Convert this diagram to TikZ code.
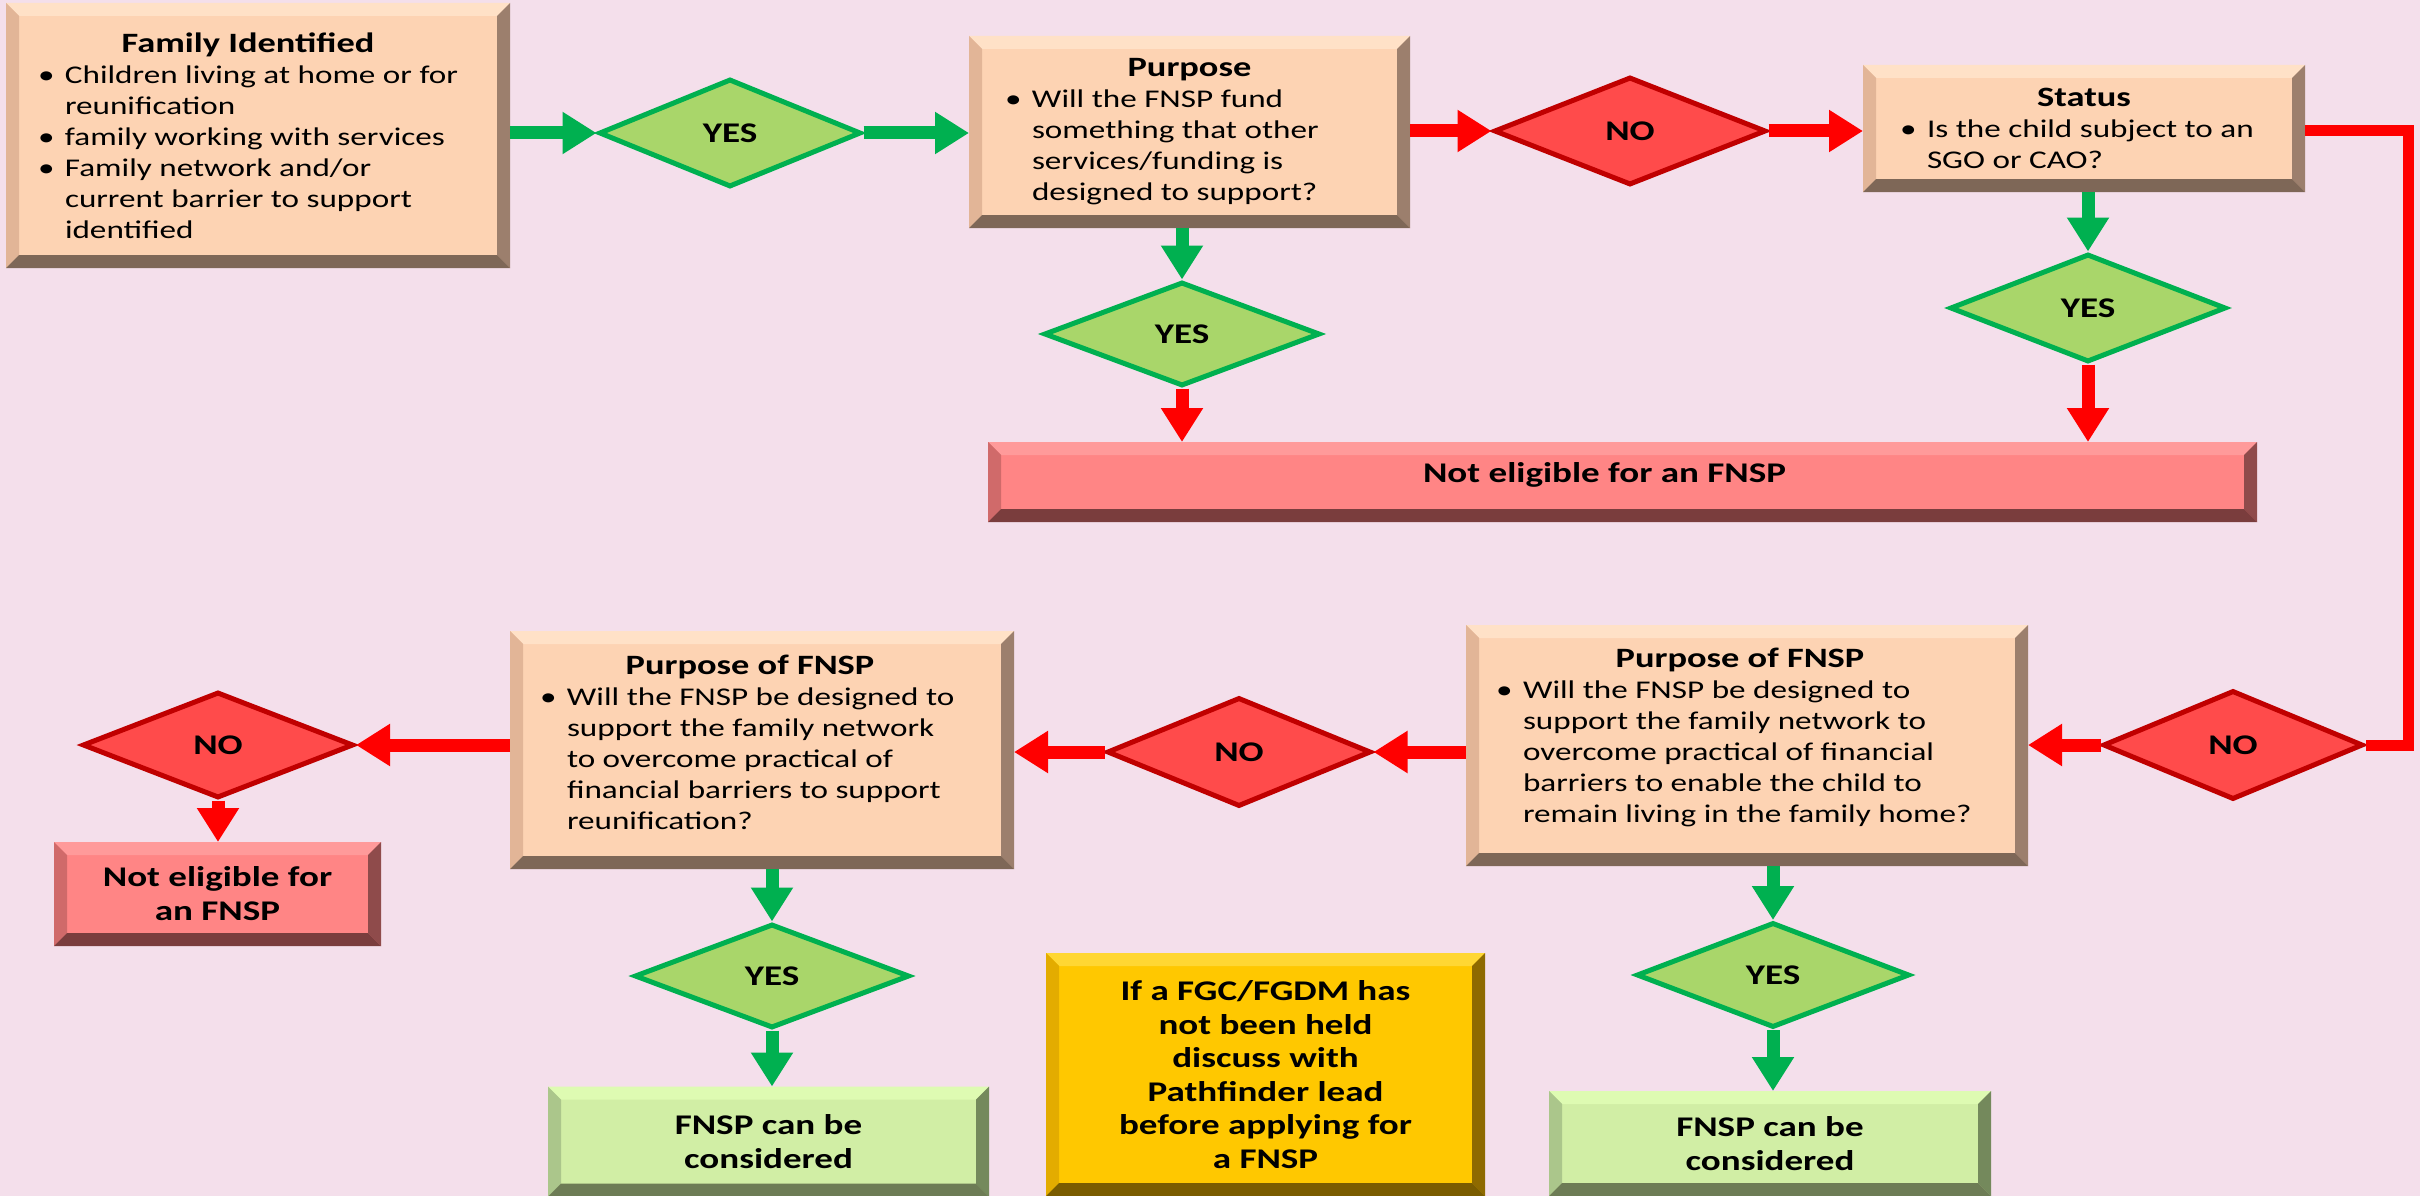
\documentclass[tikz,border=0pt]{standalone}
\usepackage{fontspec}
\setmainfont{Carlito}[FakeStretch=1.3]
\usetikzlibrary{shapes.geometric,arrows.meta}
\definecolor{bgpink}{HTML}{F4DFEB}
\definecolor{peach}{HTML}{FDD3B3}
\definecolor{peachT}{HTML}{FFE1C7}
\definecolor{peachL}{HTML}{E2B597}
\definecolor{peachR}{HTML}{9C7F6D}
\definecolor{peachB}{HTML}{7E6757}
\definecolor{pinkred}{HTML}{FF8585}
\definecolor{pinkredT}{HTML}{FF9A9A}
\definecolor{pinkredL}{HTML}{D06A6A}
\definecolor{pinkredR}{HTML}{8F4B4B}
\definecolor{pinkredB}{HTML}{7A3D3D}
\definecolor{lgbox}{HTML}{D1EEA5}
\definecolor{lgboxT}{HTML}{DEFBB2}
\definecolor{lgboxL}{HTML}{ABC68B}
\definecolor{lgboxR}{HTML}{74895C}
\definecolor{lgboxB}{HTML}{6D7C55}
\definecolor{ybox}{HTML}{FFC800}
\definecolor{yboxT}{HTML}{FFD733}
\definecolor{yboxL}{HTML}{E3AC00}
\definecolor{yboxR}{HTML}{8E6A00}
\definecolor{yboxB}{HTML}{7A5C00}
\definecolor{dgreen}{HTML}{00B050}
\definecolor{yesfill}{HTML}{A9D66A}
\definecolor{nofill}{HTML}{FF4B4B}
\definecolor{noline}{HTML}{C00000}
\definecolor{arred}{HTML}{FF0000}
\newcommand\bevsz{13pt}
\newcommand\bevel[5]{%
  \fill[#2] (#1.north west) -- (#1.north east) -- ([xshift=-\bevsz,yshift=-\bevsz]#1.north east) -- ([xshift=\bevsz,yshift=-\bevsz]#1.north west) -- cycle;
  \fill[#3] (#1.north west) -- ([xshift=\bevsz,yshift=-\bevsz]#1.north west) -- ([xshift=\bevsz,yshift=\bevsz]#1.south west) -- (#1.south west) -- cycle;
  \fill[#4] (#1.north east) -- ([xshift=-\bevsz,yshift=-\bevsz]#1.north east) -- ([xshift=-\bevsz,yshift=\bevsz]#1.south east) -- (#1.south east) -- cycle;
  \fill[#5] (#1.south west) -- (#1.south east) -- ([xshift=-\bevsz,yshift=\bevsz]#1.south east) -- ([xshift=\bevsz,yshift=\bevsz]#1.south west) -- cycle;}
\newcommand\bl{\makebox[27pt][l]{\textbullet}}
\newcommand\ct{\hspace*{27pt}}
\newcommand\ttl[2][0pt]{{\centering\fontsize{28}{31}\selectfont\bfseries\hspace*{#1}#2\par}}
\newcommand\bodyfont{\fontsize{25.5}{31}\selectfont}
\newcommand\lblfont{\fontsize{28.5}{34}\selectfont\bfseries}
\begin{document}
\begin{tikzpicture}[x=1pt,y=-1pt,
  abox/.style={inner sep=0pt,outer sep=0pt,align=center},
  pbox/.style={abox,fill=peach},
  rbox/.style={abox,fill=pinkred,font=\lblfont},
  gbox/.style={abox,fill=lgbox,font=\lblfont},
  ybx/.style={abox,fill=ybox,font=\fontsize{28.5}{33.5}\selectfont\bfseries},
  yesd/.style={diamond,draw=dgreen,fill=yesfill,line width=5pt,inner sep=0pt,font=\lblfont},
  nod/.style={diamond,draw=noline,fill=nofill,line width=5pt,inner sep=0pt,font=\lblfont},
  garr/.style={draw=dgreen,line width=13pt,-{Triangle[width=40pt,length=34pt]}},
  rarr/.style={draw=arred,line width=13pt,-{Triangle[width=40pt,length=34pt]}},
  rline/.style={draw=arred,line width=11pt,line join=miter}]
\fill[bgpink] (0,0) rectangle (2420,1196);
\useasboundingbox (0,0) rectangle (2420,1196);

% boxes
\node[pbox,minimum width=504pt,minimum height=265pt] (fam) at (258,135.5)
 {\parbox{440pt}{\bodyfont\ttl[-20pt]{Family Identified}\raggedright
 \bl Children living at home or for\\\ct reunification\\\bl family working with services\\\bl Family network and/or\\\ct current barrier to support\\\ct identified}};
\bevel{fam}{peachT}{peachL}{peachR}{peachB}

\node[pbox,minimum width=441pt,minimum height=192pt] (purp) at (1189.5,132)
 {\parbox{369pt}{\bodyfont\ttl{Purpose}\raggedright
 \bl Will the FNSP fund\\\ct something that other\\\ct services/funding is\\\ct designed to support?}};
\bevel{purp}{peachT}{peachL}{peachR}{peachB}

\node[pbox,minimum width=442pt,minimum height=127pt] (stat) at (2084,128.5)
 {\parbox{368pt}{\bodyfont\ttl{Status}\raggedright
 \bl Is the child subject to an\\\ct SGO or CAO?}};
\bevel{stat}{peachT}{peachL}{peachR}{peachB}

\node[rbox,minimum width=1269pt,minimum height=80pt] (bar) at (1622.5,482)
 {\raisebox{0pt}[0pt][0pt]{\hspace*{-36pt}Not eligible for an FNSP}};
\bevel{bar}{pinkredT}{pinkredL}{pinkredR}{pinkredB}

\node[pbox,minimum width=562pt,minimum height=241pt] (pr) at (1747,745.5)
 {\parbox{502pt}{\bodyfont\ttl[-14pt]{Purpose of FNSP}\raggedright
 \bl Will the FNSP be designed to\\\ct support the family network to\\\ct overcome practical of financial\\\ct barriers to enable the child to\\\ct remain living in the family home?\par\vspace*{16pt}}};
\bevel{pr}{peachT}{peachL}{peachR}{peachB}

\node[pbox,minimum width=504pt,minimum height=238pt] (pl) at (762,750)
 {\parbox{444pt}{\bodyfont\ttl[-24pt]{Purpose of FNSP}\raggedright
 \bl Will the FNSP be designed to\\\ct support the family network\\\ct to overcome practical of\\\ct financial barriers to support\\\ct reunification?\par\vspace*{16pt}}};
\bevel{pl}{peachT}{peachL}{peachR}{peachB}

\node[rbox,minimum width=327pt,minimum height=104pt] (nel) at (217.5,894)
 {Not eligible for\\an FNSP};
\bevel{nel}{pinkredT}{pinkredL}{pinkredR}{pinkredB}

\node[gbox,minimum width=441pt,minimum height=110pt] (fl) at (768.5,1141.5)
 {FNSP can be\\considered};
\bevel{fl}{lgboxT}{lgboxL}{lgboxR}{lgboxB}

\node[ybx,minimum width=439pt,minimum height=243pt] (yel) at (1265.5,1074.5)
 {If a FGC/FGDM has\\not been held\\discuss with\\Pathfinder lead\\before applying for\\a FNSP};
\bevel{yel}{yboxT}{yboxL}{yboxR}{yboxB}

\node[gbox,minimum width=442pt,minimum height=105pt] (fr) at (1770,1143.5)
 {FNSP can be\\considered};
\bevel{fr}{lgboxT}{lgboxL}{lgboxR}{lgboxB}

% diamonds
\node[yesd,minimum width=262pt,minimum height=108pt] (y1) at (730,133) {YES};
\node[nod,minimum width=272pt,minimum height=108pt] (n1) at (1630,131) {NO};
\node[yesd,minimum width=276pt,minimum height=104pt] (y2) at (1182,334) {YES};
\node[yesd,minimum width=276pt,minimum height=108pt] (y3) at (2088,308) {YES};
\node[nod,minimum width=260pt,minimum height=109pt] (n2) at (2233,745) {NO};
\node[nod,minimum width=264pt,minimum height=109pt] (n3) at (1239,752) {NO};
\node[nod,minimum width=271pt,minimum height=106pt] (n4) at (218,745) {NO};
\node[yesd,minimum width=275pt,minimum height=104pt] (y4) at (772,976) {YES};
\node[yesd,minimum width=273pt,minimum height=105pt] (y5) at (1773,975) {YES};

\coordinate (rc) at (2408,0);

% connectors
\draw[garr] (y1.west -| fam.east) -- (y1.west);
\draw[garr] (y1.east) -- (y1.east -| purp.west);
\draw[rarr] (n1.west -| purp.east) -- (n1.west);
\draw[rarr] (n1.east) -- (n1.east -| stat.west);
\draw[garr] (y2.north |- purp.south) -- (y2.north);
\draw[rarr] (y2.south) -- (y2.south |- bar.north);
\draw[garr] (y3.north |- stat.south) -- (y3.north);
\draw[rarr] (y3.south) -- (y3.south |- bar.north);
\draw[rline] ([yshift=-2.5pt]stat.east) -- ([yshift=-2.5pt]stat.east -| rc) -- (rc |- n2.east) -- (n2.east);
\draw[rarr] (n2.west) -- (n2.west -| pr.east);
\draw[rarr] (n3.east -| pr.west) -- (n3.east);
\draw[rarr] (n3.west) -- (n3.west -| pl.east);
\draw[rarr] (n4.east -| pl.west) -- (n4.east);
\draw[rarr] (n4.south) -- (n4.south |- nel.north);
\draw[garr] (y4.north |- pl.south) -- (y4.north);
\draw[garr] (y4.south) -- (y4.south |- fl.north);
\draw[garr] (y5.north |- pr.south) -- (y5.north);
\draw[garr] (y5.south) -- (y5.south |- fr.north);
\end{tikzpicture}
\end{document}
